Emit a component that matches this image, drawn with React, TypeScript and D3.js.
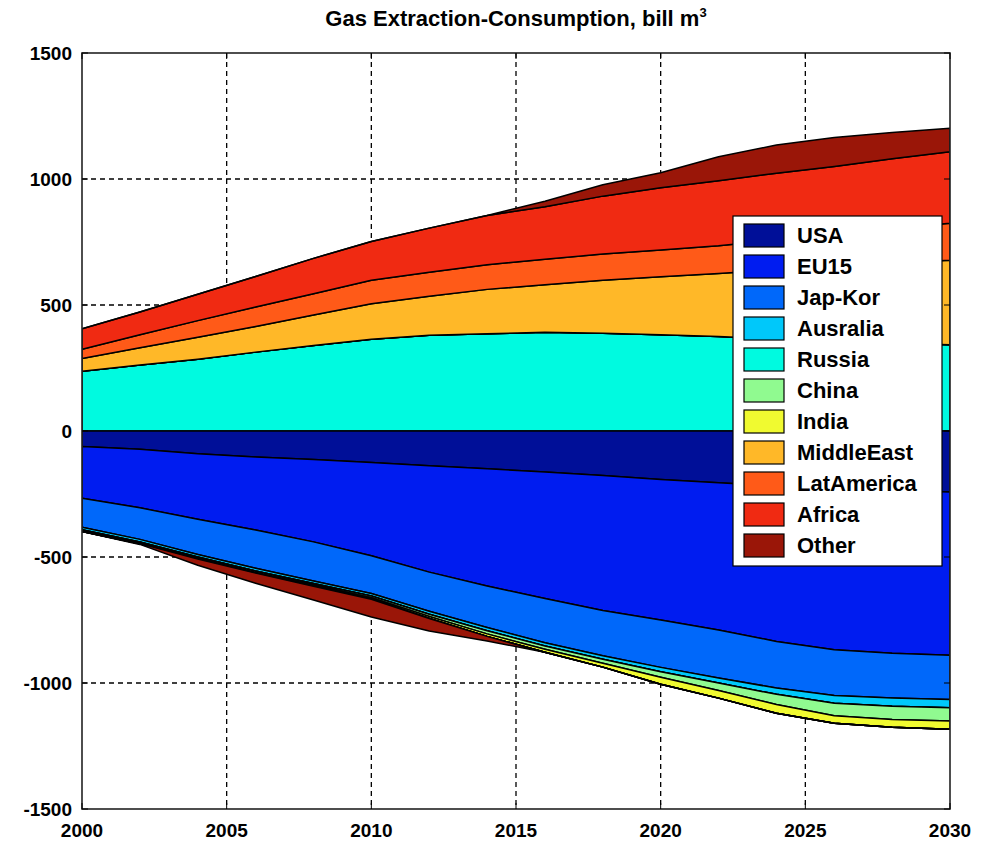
import React from "react";
import * as d3 from "d3";

const years = [2000, 2002, 2004, 2006, 2008, 2010, 2012, 2014, 2016, 2018, 2020, 2022, 2024, 2026, 2028, 2030];
const seriesNames = ["USA", "EU15", "Jap-Kor", "Ausralia", "Russia", "China", "India", "MiddleEast", "LatAmerica", "Africa", "Other"];
const seriesColors = ["#000f98", "#001cf0", "#0068fa", "#00c8fa", "#00fae0", "#90fa90", "#f0fa30", "#ffb828", "#ff5a18", "#f02a12", "#9a1608"];

const usa = [-62, -72, -90, -103, -113, -125, -138, -150, -163, -177, -192, -205, -218, -228, -236, -242];
const eu15 = [-205, -233, -260, -290, -327, -370, -422, -465, -502, -535, -558, -585, -617, -640, -646, -648];
const japKor = [-115, -125, -140, -152, -155, -150, -155, -165, -175, -180, -188, -190, -185, -182, -178, -175];
const ausralia = [-10, -10, -10, -10, -10, -10, -12, -13, -13, -14, -17, -20, -25, -30, -32, -33];
const russia = [237, 262, 285, 313, 339, 364, 380, 386, 392, 388, 382, 375, 365, 355, 348, 342];
const china = [-4, -4, -5, -5, -6, -7, -9, -12, -13, -16, -22, -30, -40, -50, -53, -53];
const india = [-3, -3, -3, -4, -5, -6, -8, -10, -12, -15, -28, -30, -35, -30, -31, -33];
const middleEast = [51, 68, 87, 102, 121, 141, 155, 176, 188, 210, 230, 250, 275, 300, 319, 336];
const latAmerica = [36, 52, 66, 77, 85, 93, 95, 98, 102, 104, 106, 110, 118, 125, 138, 146];
const africa = [82, 90, 105, 121, 140, 154, 175, 195, 208, 230, 247, 258, 265, 270, 275, 284];
const other = [0, -3, -25, -40, -55, -70, -50, -18, 22, 45, 60, 95, 112, 115, 105, 93];

const xTicks = [2000, 2005, 2010, 2015, 2020, 2025, 2030];
const yTicks = [-1500, -1000, -500, 0, 500, 1000, 1500];

const seriesValues = [usa, eu15, japKor, ausralia, russia, china, india, middleEast, latAmerica, africa, other];

export default function App() {
  const W = 992, H = 844;
  const left = 82, right = 950, top = 53, bottom = 809;
  const x = d3.scaleLinear().domain([2000, 2030]).range([left, right]);
  const y = d3.scaleLinear().domain([-1500, 1500]).range([bottom, top]);

  const rows = years.map((yr, i) => {
    const r: any = { year: yr };
    seriesNames.forEach((n, k) => (r[n] = seriesValues[k][i]));
    return r;
  });

  const posStack = d3.stack<any>().keys(seriesNames).value((d, k) => Math.max(d[k], 0))(rows);
  const negStack = d3.stack<any>().keys(seriesNames).value((d, k) => Math.min(d[k], 0))(rows);

  const area = d3
    .area<any>()
    .x((d) => x(d.data.year))
    .y0((d) => y(d[0]))
    .y1((d) => y(d[1]))
    .curve(d3.curveLinear);

  const font = "Arial, 'Liberation Sans', sans-serif";
  const legX = 733, legY = 216, legW = 209, legH = 350;

  return (
    <svg width={W} height={H} style={{ position: "absolute", left: 0, top: 0, background: "#fff" }}>
      <rect x={0} y={0} width={W} height={H} fill="#fff" />
      <defs>
        <clipPath id="plot">
          <rect x={left} y={top} width={right - left} height={bottom - top} />
        </clipPath>
      </defs>
      {/* grid */}
      <g stroke="#000" strokeWidth={1.3} strokeDasharray="5,4">
        {xTicks.slice(1, -1).map((t) => (
          <line key={"gx" + t} x1={x(t)} x2={x(t)} y1={top} y2={bottom} />
        ))}
        {yTicks.slice(1, -1).map((t) => (
          <line key={"gy" + t} x1={left} x2={right} y1={y(t)} y2={y(t)} />
        ))}
      </g>
      {/* areas */}
      <g clipPath="url(#plot)">
        {posStack.map((s, i) => (
          <path key={"p" + i} d={area(s) || ""} fill={seriesColors[i]} stroke="#000" strokeWidth={1.5} strokeLinejoin="round" />
        ))}
        {negStack.map((s, i) => (
          <path key={"n" + i} d={area(s) || ""} fill={seriesColors[i]} stroke="#000" strokeWidth={1.5} strokeLinejoin="round" />
        ))}
      </g>
      {/* frame */}
      <rect x={left} y={top} width={right - left} height={bottom - top} fill="none" stroke="#222" strokeWidth={1.6} />
      {/* ticks */}
      <g stroke="#000" strokeWidth={1}>
        {xTicks.map((t) => (
          <g key={"tx" + t}>
            <line x1={x(t)} x2={x(t)} y1={bottom} y2={bottom - 6} />
            <line x1={x(t)} x2={x(t)} y1={top} y2={top + 6} />
          </g>
        ))}
        {yTicks.map((t) => (
          <g key={"ty" + t}>
            <line x1={left} x2={left + 6} y1={y(t)} y2={y(t)} />
            <line x1={right} x2={right - 6} y1={y(t)} y2={y(t)} />
          </g>
        ))}
      </g>
      {/* tick labels */}
      <g fontFamily={font} fontWeight="bold" fontSize={19} fill="#000">
        {xTicks.map((t) => (
          <text key={"lx" + t} x={x(t)} y={bottom + 28} textAnchor="middle">
            {t}
          </text>
        ))}
        {yTicks.map((t) => (
          <text key={"ly" + t} x={left - 10} y={y(t) + 7} textAnchor="end">
            {t}
          </text>
        ))}
      </g>
      {/* title */}
      <text x={(left + right) / 2} y={26} textAnchor="middle" fontFamily={font} fontWeight="bold" fontSize={22}>
        Gas Extraction-Consumption, bill m
        <tspan dy={-9} fontSize={13}>3</tspan>
      </text>
      {/* legend */}
      <rect x={legX} y={legY} width={legW} height={legH} fill="#fff" stroke="#000" strokeWidth={1.2} />
      {seriesNames.map((n, i) => (
        <g key={"lg" + n}>
          <rect x={744} y={224 + i * 31} width={40} height={23} fill={seriesColors[i]} stroke="#000" strokeWidth={1.2} />
          <text x={797} y={243 + i * 31} fontFamily={font} fontWeight="bold" fontSize={22}>
            {n}
          </text>
        </g>
      ))}
    </svg>
  );
}
